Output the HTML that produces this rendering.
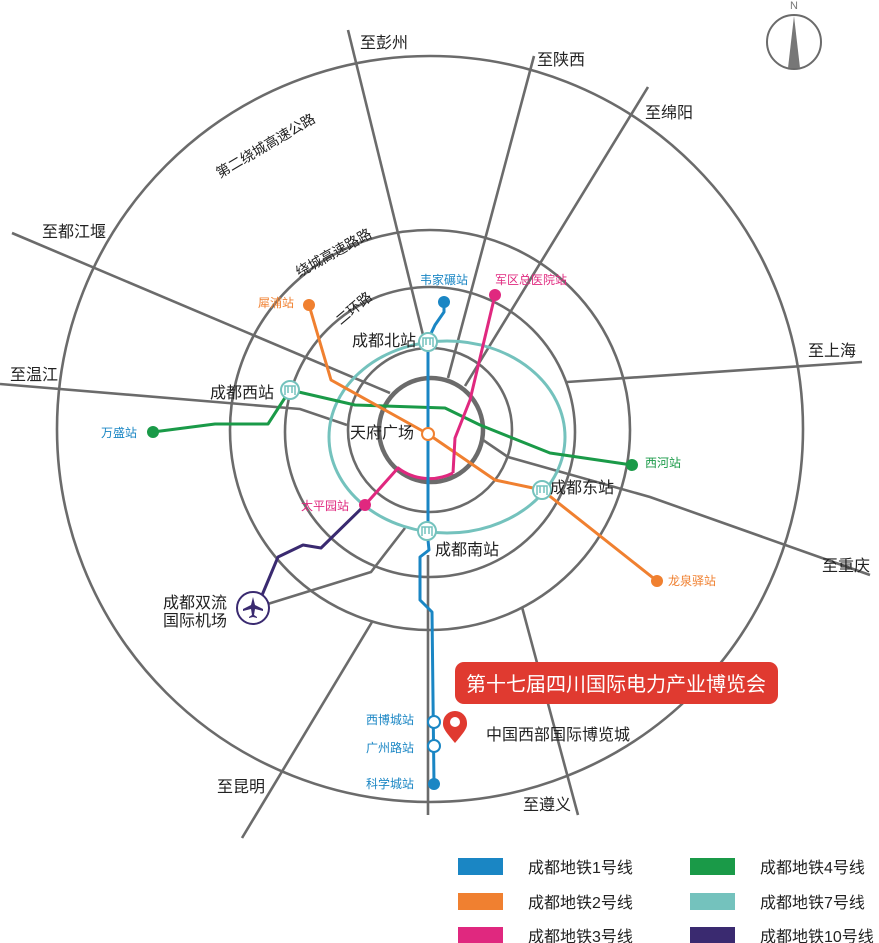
<!DOCTYPE html>
<html><head><meta charset="utf-8"><style>
html,body{margin:0;padding:0;background:#fff;}
svg{display:block;font-family:"Liberation Sans","Noto Sans CJK SC",sans-serif;}
</style></head><body>
<svg width="879" height="943" viewBox="0 0 879 943" xmlns="http://www.w3.org/2000/svg">
<g fill="none" stroke="#6b6b6b" stroke-width="2.6">
<circle cx="430" cy="429" r="373"/>
<circle cx="430" cy="430" r="200"/>
<circle cx="430" cy="432" r="145"/>
<circle cx="430" cy="430" r="82"/>
<circle cx="431" cy="430" r="52" stroke-width="4.5"/>
<polyline points="348,30 423,335"/>
<polyline points="534,56 448,378"/>
<polyline points="648,87 465,386"/>
<polyline points="862,362 567,382"/>
<polyline points="870,575 650,497 508,457 483,440"/>
<polyline points="522,607 578,815"/>
<polyline points="242,838 372,622"/>
<polyline points="258,607 371,572 405,528"/>
<polyline points="12,233 390,393"/>
<polyline points="0,384 300,409 347,425"/>
<polyline points="428,555 428,815"/>
</g>
<ellipse cx="447" cy="437" rx="118" ry="96" fill="none" stroke="#74c2bd" stroke-width="3"/>
<g fill="none" stroke-width="3" stroke-linejoin="round">
<polyline stroke="#1a9a48" points="153,432 215,424 268,424 290,390 355,405 445,408 480,425 550,453 632,465"/>
<polyline stroke="#f08030" points="309,305 331,380 428,434 495,480 533,488 542,490 657,581"/>
<polyline stroke="#e0287f" points="495,295 470,400 455,438 453,473"/>
<path stroke="#e0287f" d="M453,473 A52,52 0 0 1 398,468 L365,505"/>
<polyline stroke="#3a2a70" points="365,505 321,548 303,545 278,557 260,600"/>
<polyline stroke="#1a86c4" points="444,302 444,312 435,325 428,340 428,540 429,550 420,557 420,600 432,612 434,784"/>
</g>
<g stroke="none">
<circle cx="444" cy="302" r="6" fill="#1a86c4"/>
<circle cx="495" cy="295" r="6" fill="#e0287f"/>
<circle cx="309" cy="305" r="6" fill="#f08030"/>
<circle cx="153" cy="432" r="6" fill="#1a9a48"/>
<circle cx="632" cy="465" r="6" fill="#1a9a48"/>
<circle cx="657" cy="581" r="6" fill="#f08030"/>
<circle cx="365" cy="505" r="6" fill="#e0287f"/>
<circle cx="434" cy="784" r="6" fill="#1a86c4"/>
</g>
<circle cx="428" cy="434" r="6" fill="#fff" stroke="#f08030" stroke-width="2"/>
<circle cx="434" cy="722" r="6" fill="#fff" stroke="#1a86c4" stroke-width="2"/>
<circle cx="434" cy="746" r="6" fill="#fff" stroke="#1a86c4" stroke-width="2"/>
<g fill="#fff" stroke="#74c2bd" stroke-width="2">
<circle cx="428" cy="342" r="9"/><circle cx="290" cy="390" r="9"/>
<circle cx="542" cy="490" r="9"/><circle cx="427" cy="531" r="9"/>
</g>
<g fill="none" stroke="#74c2bd" stroke-width="1.5">
<path d="M423,347 v-9 h10 v9 M426,338 v7 M430,338 v7"/>
<path d="M285,395 v-9 h10 v9 M288,386 v7 M292,386 v7"/>
<path d="M537,495 v-9 h10 v9 M540,486 v7 M544,486 v7"/>
<path d="M422,536 v-9 h10 v9 M425,527 v7 M429,527 v7"/>
</g>
<circle cx="253" cy="608" r="16" fill="#fff" stroke="#3a2a70" stroke-width="2"/>
<path d="M253,597 l2,8 8,4 v2 l-8,-2 -1,6 3,2 v1 l-4,-1 -4,1 v-1 l3,-2 -1,-6 -8,2 v-2 l8,-4z" fill="#3a2a70"/>
<circle cx="794" cy="42" r="27" fill="none" stroke="#6b6b6b" stroke-width="2"/>
<path d="M794,16 L800,68 L788,68z" fill="#777"/>
<text x="794" y="9" font-size="11" fill="#777" text-anchor="middle">N</text>
<rect x="455" y="662" width="323" height="42" rx="9" fill="#e03a30"/>
<text x="616" y="691" font-size="20" fill="#fff" text-anchor="middle">第十七届四川国际电力产业博览会</text>
<path d="M455,743 c-12,-14 -12,-16 -12,-20 a12,12 0 0 1 24,0 c0,4 0,6 -12,20z" fill="#e03a30"/>
<circle cx="455" cy="722" r="5" fill="#fff"/>
<g font-size="16" fill="#222">
<text x="360" y="48">至彭州</text>
<text x="537" y="65">至陕西</text>
<text x="645" y="118">至绵阳</text>
<text x="42" y="237">至都江堰</text>
<text x="10" y="380">至温江</text>
<text x="808" y="356">至上海</text>
<text x="822" y="571">至重庆</text>
<text x="523" y="810">至遵义</text>
<text x="217" y="792">至昆明</text>
<text x="352" y="346">成都北站</text>
<text x="210" y="398">成都西站</text>
<text x="350" y="438">天府广场</text>
<text x="550" y="493">成都东站</text>
<text x="435" y="555">成都南站</text>
<text x="163" y="608">成都双流</text>
<text x="163" y="626">国际机场</text>
<text x="486" y="740">中国西部国际博览城</text>
</g>
<g font-size="14" fill="#222">
<text transform="translate(268,150) rotate(-30.5)" text-anchor="middle">第二绕城高速公路</text>
<text transform="translate(336,257) rotate(-29)" text-anchor="middle">绕城高速路路</text>
<text transform="translate(357,312) rotate(-40)" text-anchor="middle">二环路</text>
</g>
<g font-size="12">
<text x="420" y="284" fill="#1a86c4">韦家碾站</text>
<text x="495" y="284" fill="#e0287f">军区总医院站</text>
<text x="258" y="307" fill="#f08030">犀浦站</text>
<text x="101" y="437" fill="#1a86c4">万盛站</text>
<text x="645" y="467" fill="#1a9a48">西河站</text>
<text x="668" y="585" fill="#f08030">龙泉驿站</text>
<text x="301" y="510" fill="#e0287f">太平园站</text>
<text x="366" y="724" fill="#1a86c4">西博城站</text>
<text x="366" y="752" fill="#1a86c4">广州路站</text>
<text x="366" y="788" fill="#1a86c4">科学城站</text>
</g>
<rect x="458" y="858" width="45" height="17" fill="#1a86c4"/>
<rect x="458" y="893" width="45" height="17" fill="#f08030"/>
<rect x="458" y="927" width="45" height="17" fill="#e0287f"/>
<rect x="690" y="858" width="45" height="17" fill="#1a9a48"/>
<rect x="690" y="893" width="45" height="17" fill="#74c2bd"/>
<rect x="690" y="927" width="45" height="17" fill="#3a2a70"/>
<g font-size="16" fill="#222">
<text x="528" y="873">成都地铁1号线</text>
<text x="528" y="908">成都地铁2号线</text>
<text x="528" y="942">成都地铁3号线</text>
<text x="760" y="873">成都地铁4号线</text>
<text x="760" y="908">成都地铁7号线</text>
<text x="760" y="942">成都地铁10号线</text>
</g>
</svg>
</body></html>
